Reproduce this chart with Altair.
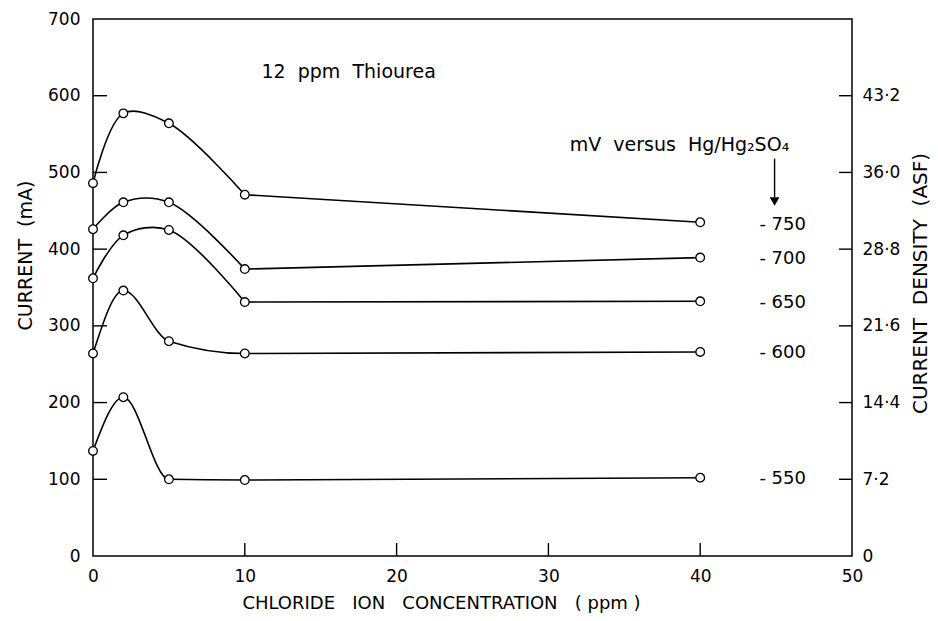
import altair as alt
import pandas as pd

FONT = "DejaVu Sans"

# ---- data ----
x_ppm = [0, 2, 5, 10, 40]
series_mv = ["750", "700", "650", "600", "550"]
series_shape = ["hump", "hump", "hump", "peak", "peak"]
i_750 = [486, 577, 564, 471, 435]
i_700 = [426, 461, 461, 374, 389]
i_650 = [362, 418, 425, 331, 332]
i_600 = [264, 346, 280, 264, 266]
i_550 = [137, 207, 100, 99, 102]

label_texts = ["- 750", "- 700", "- 650", "- 600", "- 550"]
label_x = [43.9, 43.9, 43.9, 43.9, 43.9]
label_y = [431, 387, 330, 265, 100]

x_tick_values = [10, 20, 30, 40]
x_label_values = [0, 10, 20, 30, 40, 50]
y_tick_values = [100, 200, 300, 400, 500, 600]
y_label_values = [0, 100, 200, 300, 400, 500, 600, 700]
asf_values = [0, 100, 200, 300, 400, 500, 600]
asf_labels = ["0", "7\u00b72", "14\u00b74", "21\u00b76", "28\u00b78", "36\u00b70", "43\u00b72"]

note_text = ["12\u00a0 ppm\u00a0 Thiourea"]
note_x = [11.1]
note_y = [631]

ref_text = ["mV\u00a0 versus\u00a0 Hg/Hg\u2082SO\u2084"]
ref_x = [31.4]
ref_y = [536]

arrow_x = [44.9]
arrow_top = [518]
arrow_bottom = [468]
arrow_head = [462]

# ---- tables ----
all_series = [i_750, i_700, i_650, i_600, i_550]
rows = []
for mv, shp, vals in zip(series_mv, series_shape, all_series):
    for x, v in zip(x_ppm, vals):
        rows.append({"mv": mv, "shape": shp, "ppm": x, "mA": v})
df = pd.DataFrame(rows)
df_hump_head = df[(df["shape"] == "hump") & (df["ppm"] <= 10)]
df_hump_tail = df[(df["shape"] == "hump") & (df["ppm"] >= 10)]
df_peak = df[df["shape"] == "peak"]
df_lab = pd.DataFrame({"t": label_texts, "x": label_x, "y": label_y})
df_yt = pd.DataFrame({"v": y_tick_values})
df_xt = pd.DataFrame({"v": x_tick_values})
df_note = pd.DataFrame({"t": note_text, "x": note_x, "y": note_y})
df_ref = pd.DataFrame({"t": ref_text, "x": ref_x, "y": ref_y})
df_arrow = pd.DataFrame({"x": arrow_x, "y": arrow_top, "y2": arrow_bottom, "h": arrow_head})

W, H = 759, 537
xs = alt.Scale(domain=[0, 50], nice=False, zero=False)
ys = alt.Scale(domain=[0, 700], nice=False, zero=False)

asf_expr = " : ".join(
    f"datum.value == {v} ? '{l}'" for v, l in zip(asf_values, asf_labels)
) + " : ''"

common_axis = dict(
    ticks=False, domain=False, grid=False, labelFont=FONT, labelFontSize=17,
    labelColor="black", titleFont=FONT, titleColor="black",
    titleFontWeight="normal", labelFlush=False, labelOverlap=False,
)

x_axis = alt.Axis(
    values=x_label_values, format="d", labelPadding=12,
    title="CHLORIDE\u00a0\u00a0 ION\u00a0\u00a0 CONCENTRATION\u00a0\u00a0 (\u00a0ppm\u00a0)",
    titleFontSize=18,
    titleX=348, titleY=47, titleAlign="center", titleBaseline="middle",
    **common_axis,
)
y_axis_left = alt.Axis(
    values=y_label_values, format="d", labelPadding=13, orient="left",
    title="CURRENT\u00a0 (mA)", titleFontSize=19,
    titleX=-68, titleY=236, titleAngle=270,
    titleAlign="center", titleBaseline="middle", **common_axis,
)
y_axis_right = alt.Axis(
    values=asf_values, labelExpr=asf_expr, labelPadding=10, orient="right",
    title="CURRENT\u00a0 DENSITY\u00a0 (ASF)", titleFontSize=20,
    titleX=68, titleY=264, titleAngle=270,
    titleAlign="center", titleBaseline="middle", **common_axis,
)

X = lambda f: alt.X(f, scale=xs, axis=x_axis)
Y = lambda f, axis=None: alt.Y(f, scale=ys, axis=axis)

line_style = dict(color="black", strokeWidth=1.6)

hump_head = alt.Chart(df_hump_head).mark_line(
    interpolate="catmull-rom", **line_style
).encode(x=X("ppm:Q"), y=Y("mA:Q", y_axis_left), detail="mv:N")

hump_tail = alt.Chart(df_hump_tail).mark_line(
    interpolate="linear", **line_style
).encode(x=X("ppm:Q"), y=Y("mA:Q"), detail="mv:N")

peak_lines = alt.Chart(df_peak).mark_line(
    interpolate="monotone", **line_style
).encode(x=X("ppm:Q"), y=Y("mA:Q"), detail="mv:N")

points = alt.Chart(df).mark_point(
    shape="circle", filled=True, fill="white", stroke="black",
    strokeWidth=1.3, size=75, opacity=1
).encode(x=X("ppm:Q"), y=Y("mA:Q"))

left_ticks = alt.Chart(df_yt).mark_rule(color="black", strokeWidth=1.4).encode(
    y=Y("v:Q"), x=alt.value(0), x2=alt.value(14)
)
right_ticks = alt.Chart(df_yt).mark_rule(color="black", strokeWidth=1.4).encode(
    y=Y("v:Q", y_axis_right), x=alt.value(W - 13), x2=alt.value(W)
)
bottom_ticks = alt.Chart(df_xt).mark_rule(color="black", strokeWidth=1.4).encode(
    x=X("v:Q"), y=alt.value(H - 13), y2=alt.value(H)
)

labels = alt.Chart(df_lab).mark_text(
    align="left", baseline="middle", font=FONT, fontSize=18, color="black"
).encode(x=X("x:Q"), y=Y("y:Q"), text="t:N")

note = alt.Chart(df_note).mark_text(
    align="left", baseline="middle", font=FONT, fontSize=19, color="black"
).encode(x=X("x:Q"), y=Y("y:Q"), text="t:N")

ref = alt.Chart(df_ref).mark_text(
    align="left", baseline="middle", font=FONT, fontSize=19, color="black"
).encode(x=X("x:Q"), y=Y("y:Q"), text="t:N")

arrow_line = alt.Chart(df_arrow).mark_rule(color="black", strokeWidth=1.4).encode(
    x=X("x:Q"), y=Y("y:Q"), y2="y2:Q"
)
arrow_tip = alt.Chart(df_arrow).mark_point(
    shape="triangle-down", filled=True, color="black", size=95, opacity=1
).encode(x=X("x:Q"), y=Y("h:Q"))

chart = alt.layer(
    hump_head, hump_tail, peak_lines, points, left_ticks, right_ticks,
    bottom_ticks, labels, note, ref, arrow_line, arrow_tip
).resolve_scale(y="independent").properties(
    width=W, height=H,
    autosize=alt.AutoSizeParams(type="none"),
    padding={"left": 85, "top": 11, "right": 78, "bottom": 57},
    background="white",
).configure_view(stroke="black", strokeWidth=1.5)

chart.save("out.html", embed_options={"renderer": "svg", "actions": False})
